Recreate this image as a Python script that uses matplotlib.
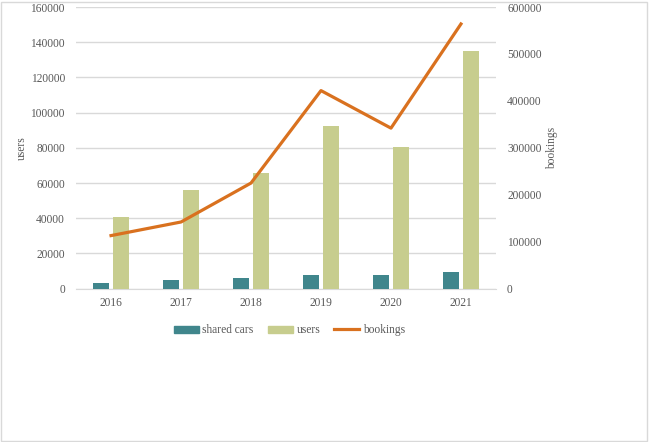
import numpy as np
import matplotlib
matplotlib.use('Agg')
from matplotlib import pyplot as plt
from matplotlib.lines import Line2D
from matplotlib.patches import Patch, Rectangle

years = ['2016', '2017', '2018', '2019', '2020', '2021']
shared_cars = [3400, 5000, 5900, 7800, 8000, 9700]
users = [40900, 56100, 65500, 92400, 80300, 135200]
bookings = [113000, 142000, 225000, 422000, 342000, 564000]

teal = '#40868c'
green = '#c7cd8e'
orange = '#d9711f'
txt = '#595959'
grid = '#d9d9d9'

plt.rcParams['font.family'] = ['Liberation Serif', 'DejaVu Serif']
plt.rcParams['font.size'] = 8

fig = plt.figure(figsize=(6.5, 4.42), dpi=100)
fig.patches.append(Rectangle((0.002, 0.003), 0.994, 0.993, transform=fig.transFigure,
                             fill=False, edgecolor=grid, linewidth=1))
ax = fig.add_axes([0.117, 0.347, 0.646, 0.637])
ax2 = ax.twinx()

x = np.arange(len(years))
w = 0.226
off = 0.143
ax.bar(x - off, shared_cars, w, color=teal, zorder=3)
ax.bar(x + off, users, w, color=green, zorder=3)
ax2.plot(x, bookings, color=orange, linewidth=2.3, zorder=4)

ax.set_xlim(-0.5, len(years) - 0.5)
ax.set_ylim(0, 160000)
ax.set_yticks(np.arange(0, 160001, 20000))
ax2.set_ylim(0, 600000)
ax2.set_yticks(np.arange(0, 600001, 100000))
ax.set_xticks(x)
ax.set_xticklabels(years)
ax.yaxis.grid(True, color=grid, linewidth=1, zorder=0)
ax.set_axisbelow(True)

for a in (ax, ax2):
    for s in a.spines.values():
        s.set_visible(False)
    a.tick_params(length=0, colors=txt, labelsize=8.3)
ax.spines['bottom'].set_visible(True)
ax.spines['bottom'].set_color(grid)
ax.tick_params(axis='y', pad=8)
ax.tick_params(axis='x', pad=6)
ax2.tick_params(axis='y', pad=8)

ax.set_ylabel('users', color=txt, fontsize=8.3, labelpad=2)
ax2.set_ylabel('bookings', color=txt, fontsize=8.3, labelpad=3)

handles = [Patch(color=teal), Patch(color=green), Line2D([0], [0], color=orange, linewidth=2.3)]
fig.legend(handles, ['shared cars', 'users', 'bookings'], loc='center', bbox_to_anchor=(0.445, 0.253),
           ncol=3, frameon=False, fontsize=8.3, labelcolor=txt, handlelength=2.2, handleheight=0.55,
           columnspacing=1.2, handletextpad=0.3)

fig.savefig('out.png', dpi=100)
